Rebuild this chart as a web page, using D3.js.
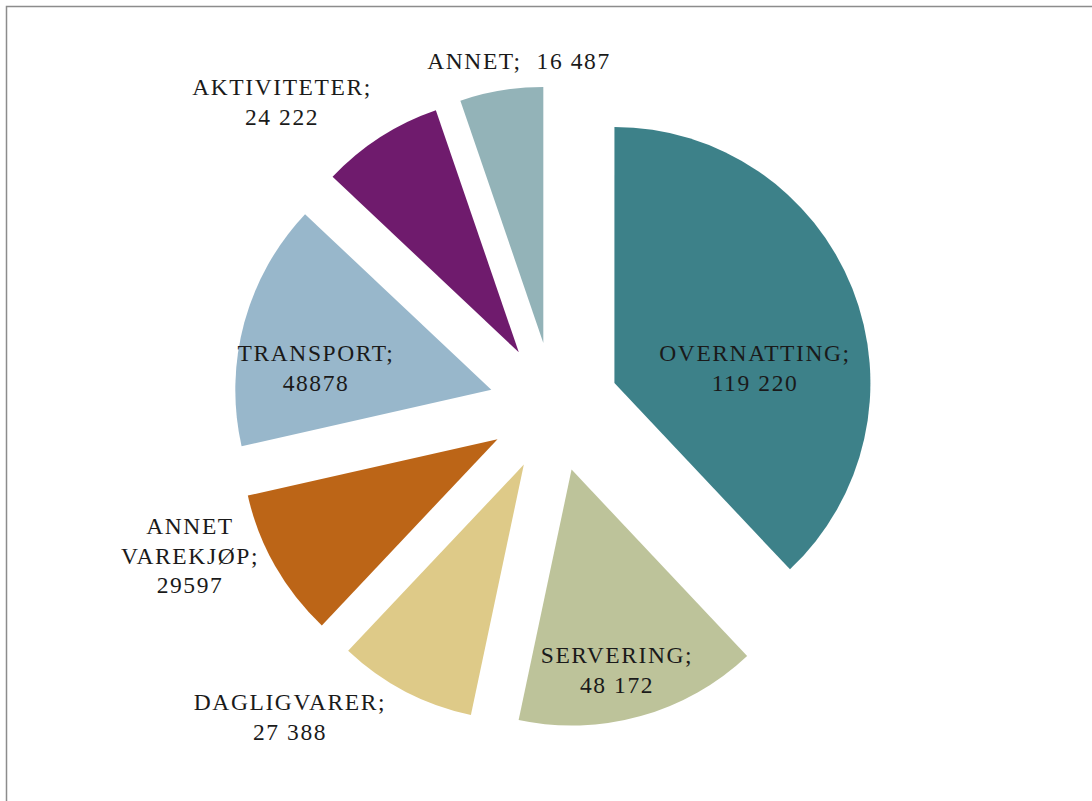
<!DOCTYPE html>
<html>
<head>
<meta charset="utf-8">
<script src="https://cdn.jsdelivr.net/npm/d3@7"></script>
<style>
  body { margin: 0; background: #fff; }
  text { font-family: "Liberation Serif", "Times New Roman", serif; fill: #1a1a1a; }
</style>
</head>
<body>
<div id="chart"></div>
<script>
'use strict';
const categories = ["OVERNATTING", "SERVERING", "DAGLIGVARER", "ANNET VAREKJØP", "TRANSPORT", "AKTIVITETER", "ANNET"];
const values = [119220, 48172, 27388, 29597, 48878, 24222, 16487];
const valueLabels = ["119 220", "48 172", "27 388", "29597", "48878", "24 222", " 16 487"];
const colors = ["#3d8189", "#bdc39a", "#deca88", "#bc6517", "#98b7cb", "#6f1b6d", "#93b3b8"];

const width = 1092, height = 801;
const cx = 554, cy = 407, radius = 256, explode = 65;

const svg = d3.select("#chart").append("svg")
  .attr("width", width)
  .attr("height", height);

// chart frame (runs off the right and bottom edge)
svg.append("rect")
  .attr("x", 6.5).attr("y", 6.5)
  .attr("width", width + 20).attr("height", height + 20)
  .attr("fill", "none")
  .attr("stroke", "#8c8c8c")
  .attr("stroke-width", 1.5);

const pie = d3.pie().sort(null).value(d => d);
const arcs = pie(values);
const arc = d3.arc().innerRadius(0).outerRadius(radius);

const g = svg.append("g").attr("transform", "translate(" + cx + "," + cy + ")");

function offset(d) {
  const a = (d.startAngle + d.endAngle) / 2;
  return [Math.sin(a) * explode, -Math.cos(a) * explode];
}

g.selectAll("path.slice")
  .data(arcs)
  .join("path")
  .attr("class", "slice")
  .attr("fill", (d, i) => colors[i])
  .attr("transform", d => "translate(" + offset(d) + ")")
  .attr("d", arc);

// label lines and positions (relative to pie centre, first baseline)
const labelLines = [
  [categories[0] + ";", valueLabels[0]],
  [categories[1] + ";", valueLabels[1]],
  [categories[2] + ";", valueLabels[2]],
  ["ANNET", "VAREKJØP;", valueLabels[3]],
  [categories[4] + ";", valueLabels[4]],
  [categories[5] + ";", valueLabels[5]],
  [categories[6] + "; " + valueLabels[6]]
];
const labelPos = [[201, -46], [63, 256], [-264, 303], [-364, 127], [-238, -46], [-272, -312], [-35, -338]];

const lineH = 29.5;
svg.append("g").selectAll("text")
  .data(labelLines)
  .join("text")
  .attr("text-anchor", "middle")
  .attr("font-size", 23.5)
  .attr("letter-spacing", 1.6)
  .attr("x", (d, i) => cx + labelPos[i][0])
  .attr("y", (d, i) => cy + labelPos[i][1])
  .selectAll("tspan")
  .data((d, i) => d.map(t => ({ t: t, i: i })))
  .join("tspan")
  .attr("x", d => cx + labelPos[d.i][0])
  .attr("dy", (d, j) => j === 0 ? 0 : lineH)
  .style("white-space", "pre")
  .text(d => d.t);
</script>
</body>
</html>
